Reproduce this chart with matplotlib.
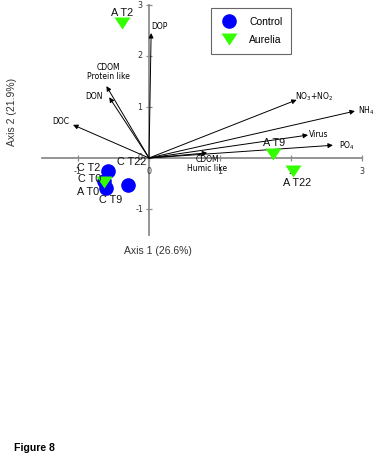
import matplotlib
matplotlib.use("Agg")
import matplotlib.pyplot as plt
from matplotlib.lines import Line2D

# ---- data ----
control_labels = ["C T0", "C T2", "C T9", "C T22"]
control_x = [-0.63, -0.58, -0.60, -0.29]
control_y = [-0.45, -0.25, -0.59, -0.53]

aurelia_labels = ["A T0", "A T2", "A T9", "A T22"]
aurelia_x = [-0.64, -0.38, 1.75, 2.03]
aurelia_y = [-0.47, 2.65, 0.08, -0.25]

vec_labels = ["DOP", "CDOM\nProtein like", "DON", "DOC", "NO$_3$+NO$_2$",
              "NH$_4$", "Virus", "PO$_4$", "CDOM\nHumic like"]
vec_x = [0.03, -0.60, -0.56, -1.07, 2.08, 2.90, 2.24, 2.59, 0.82]
vec_y = [2.45, 1.41, 1.19, 0.65, 1.14, 0.92, 0.45, 0.25, 0.10]

tick_vals = [-1, 0, 1, 2, 3]
axis_range = [-1.5, 3.0]

# ---- styling / layout ----
control_offsets = {"C T0": (-3, 2, "right", "center"), "C T2": (-8, 3, "right", "center"),
                   "C T9": (4, -12, "center", "center"), "C T22": (3, 23, "center", "center")}
aurelia_offsets = {"A T0": (-4, -10, "right", "center"), "A T2": (0, 10, "center", "center"),
                   "A T9": (1, 11, "center", "center"), "A T22": (4, -12, "center", "center")}
vec_offsets = [(0, 7, "left", "center"), (2, 5, "center", "bottom"), (-6, 1, "right", "center"),
               (-4, 3, "right", "center"), (-2, 3, "left", "center"), (3, 0, "left", "center"),
               (1, 1, "left", "center"), (6, 0, "left", "center"), (0, -2, "center", "top")]

fig = plt.figure(figsize=(3.77, 4.58), dpi=100)
ax = fig.add_axes([0, 0, 1, 1])
ax.set_xlim(-149 / 71, 228 / 71)
ax.set_ylim((158 - 458) / 51, 158 / 51)
ax.axis("off")

axcol = "#8c8c8c"
ax.plot(axis_range, [0, 0], color=axcol, lw=1.3, zorder=1)
ax.plot([0, 0], axis_range, color=axcol, lw=1.3, zorder=1)
ax.plot(tick_vals, [0] * len(tick_vals), ls="none", marker="|", ms=5, mew=0.9, color=axcol, zorder=1)
ax.plot([0] * len(tick_vals), tick_vals, ls="none", marker="_", ms=5, mew=0.9, color=axcol, zorder=1)

tickfont = dict(family="DejaVu Sans", fontsize=5.8, color="#333333")
for t in tick_vals:
    ax.annotate(str(t), (t, 0), xytext=(0, -14), textcoords="offset pixels",
                ha="center", va="center", **tickfont)
    ax.annotate(str(t), (0, t), xytext=(-9, 0), textcoords="offset pixels",
                ha="center", va="center", **tickfont)

# vectors
for lab, x, y, (dx, dy, ha, va) in zip(vec_labels, vec_x, vec_y, vec_offsets):
    ax.annotate("", xy=(x, y), xytext=(0, 0),
                arrowprops=dict(arrowstyle="-|>", color="black", lw=0.7,
                                mutation_scale=7, shrinkA=0, shrinkB=0), zorder=2)
    ax.annotate(lab, (x, y), xytext=(dx, dy), textcoords="offset pixels",
                ha=ha, va=va, fontsize=5.5, family="DejaVu Sans",
                linespacing=0.95, zorder=5)

tri = [(-1, 0.75), (1, 0.75), (0, -0.75)]
ax.plot(control_x, control_y, ls="none", marker="o", ms=9.5, color="#0000ff", zorder=3)
ax.plot(aurelia_x, aurelia_y, ls="none", marker=tri, ms=11.5, color="#33ff00", mew=0, zorder=4)

lblfont = dict(family="Liberation Sans", fontsize=7.8, color="#111111")
for lab, x, y in zip(control_labels, control_x, control_y):
    dx, dy, ha, va = control_offsets[lab]
    ax.annotate(lab, (x, y), xytext=(dx, dy), textcoords="offset pixels",
                ha=ha, va=va, zorder=6, **lblfont)
for lab, x, y in zip(aurelia_labels, aurelia_x, aurelia_y):
    dx, dy, ha, va = aurelia_offsets[lab]
    ax.annotate(lab, (x, y), xytext=(dx, dy), textcoords="offset pixels",
                ha=ha, va=va, zorder=6, **lblfont)

fig.text(158 / 377, 1 - 251 / 458, "Axis 1 (26.6%)", ha="center", va="center",
         family="Liberation Sans", fontsize=7.5, color="#333333")
fig.text(12 / 377, 1 - 112 / 458, "Axis 2 (21.9%)", ha="center", va="center",
         rotation=90, family="Liberation Sans", fontsize=7.5, color="#333333")
fig.text(14 / 377, 1 - 448 / 458, "Figure 8", ha="left", va="center",
         family="Liberation Sans", fontsize=7.6, fontweight="bold")

handles = [Line2D([], [], ls="none", marker="o", ms=9.5, color="#0000ff"),
           Line2D([], [], ls="none", marker=tri, ms=11.5, color="#33ff00", mew=0)]
leg = ax.legend(handles, ["Control", "Aurelia"], loc="upper left",
                bbox_to_anchor=(211 / 377, 1 - 8 / 458), bbox_transform=fig.transFigure,
                borderaxespad=0, fancybox=False, framealpha=1, edgecolor="#666666",
                prop=dict(family="Liberation Sans", size=7.5), handlelength=1.8,
                handletextpad=1.0, labelspacing=0.75, borderpad=0.85)
leg.get_frame().set_linewidth(0.8)

fig.savefig("out.png", dpi=100)
